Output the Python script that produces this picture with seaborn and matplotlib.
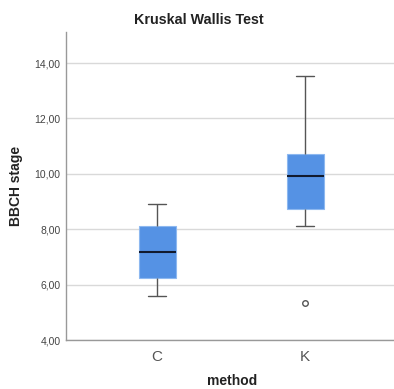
import numpy as np
import pandas as pd
import matplotlib
matplotlib.use("Agg")
import matplotlib.pyplot as plt
import seaborn as sns

# Values
categories = ["C", "K"]
whisker_low = [5.60, 8.13]
q1 = [6.23, 8.73]
median = [7.18, 9.93]
q3 = [8.12, 10.71]
whisker_high = [8.90, 13.53]
outliers = [[], [5.32]]
y_ticks = [4, 6, 8, 10, 12, 14]

# Build a small data table whose box statistics reproduce the read values
rows = []
for i, cat in enumerate(categories):
    if outliers[i]:
        vals = outliers[i] + [whisker_low[i], q1[i], q1[i], median[i],
                              q3[i], q3[i], q3[i], whisker_high[i]]
    else:
        vals = [whisker_low[i], q1[i], median[i], q3[i], whisker_high[i]]
    for v in vals:
        rows.append({"method": cat, "BBCH stage": v})
df = pd.DataFrame(rows)

sns.set_theme(style="white")
plt.rcParams["font.family"] = ["Liberation Sans", "DejaVu Sans"]

W, H = 394, 389
fig = plt.figure(figsize=(W / 100, H / 100), dpi=100)
ax = fig.add_axes([66 / W, 1 - 340 / H, (W - 66) / W, (340 - 32) / H])

sns.boxplot(
    data=df, x="method", y="BBCH stage", order=categories, ax=ax,
    width=0.25, color="#5592e4", saturation=1,
    linewidth=1.0,
    boxprops=dict(facecolor="#5592e4", edgecolor="#8db8f0", linewidth=0.8),
    medianprops=dict(color="#111a2e", linewidth=1.5),
    whiskerprops=dict(color="#555555", linewidth=1.0),
    capprops=dict(color="#555555", linewidth=1.0),
    flierprops=dict(marker="o", markersize=4, markerfacecolor="white",
                    markeredgecolor="#555555", markeredgewidth=1.0),
    zorder=3,
)

ax.set_ylim(4, 15.12)
ax.set_xlim(-0.615, 1.60)
ax.set_yticks(y_ticks)
ax.set_yticklabels([f"{t:.2f}".replace(".", ",") for t in y_ticks],
                   fontsize=7.5, color="#444444")
ax.tick_params(axis="x", labelsize=11, colors="#555555", length=0, pad=7)
ax.tick_params(axis="y", length=0, pad=4)

ax.yaxis.grid(True, color="#d9d9d9", linewidth=1.0, zorder=0)
ax.set_axisbelow(True)
for s in ["top", "right"]:
    ax.spines[s].set_visible(False)
for s in ["left", "bottom"]:
    ax.spines[s].set_color("#999999")
    ax.spines[s].set_linewidth(1.0)

ax.set_xlabel("method", fontsize=10, fontweight="bold", color="#222222")
ax.set_ylabel("BBCH stage", fontsize=10, fontweight="bold", color="#222222")
ax.xaxis.set_label_coords((232 - 66) / (W - 66), (340 - 374) / (340 - 32))
ax.yaxis.set_label_coords((23 - 66) / (W - 66), (340 - 186) / (340 - 32))
fig.text(199 / W, 1 - 20 / H, "Kruskal Wallis Test", ha="center", va="center",
         fontsize=10.3, fontweight="bold", color="#222222")

fig.savefig("out.png", dpi=100)
